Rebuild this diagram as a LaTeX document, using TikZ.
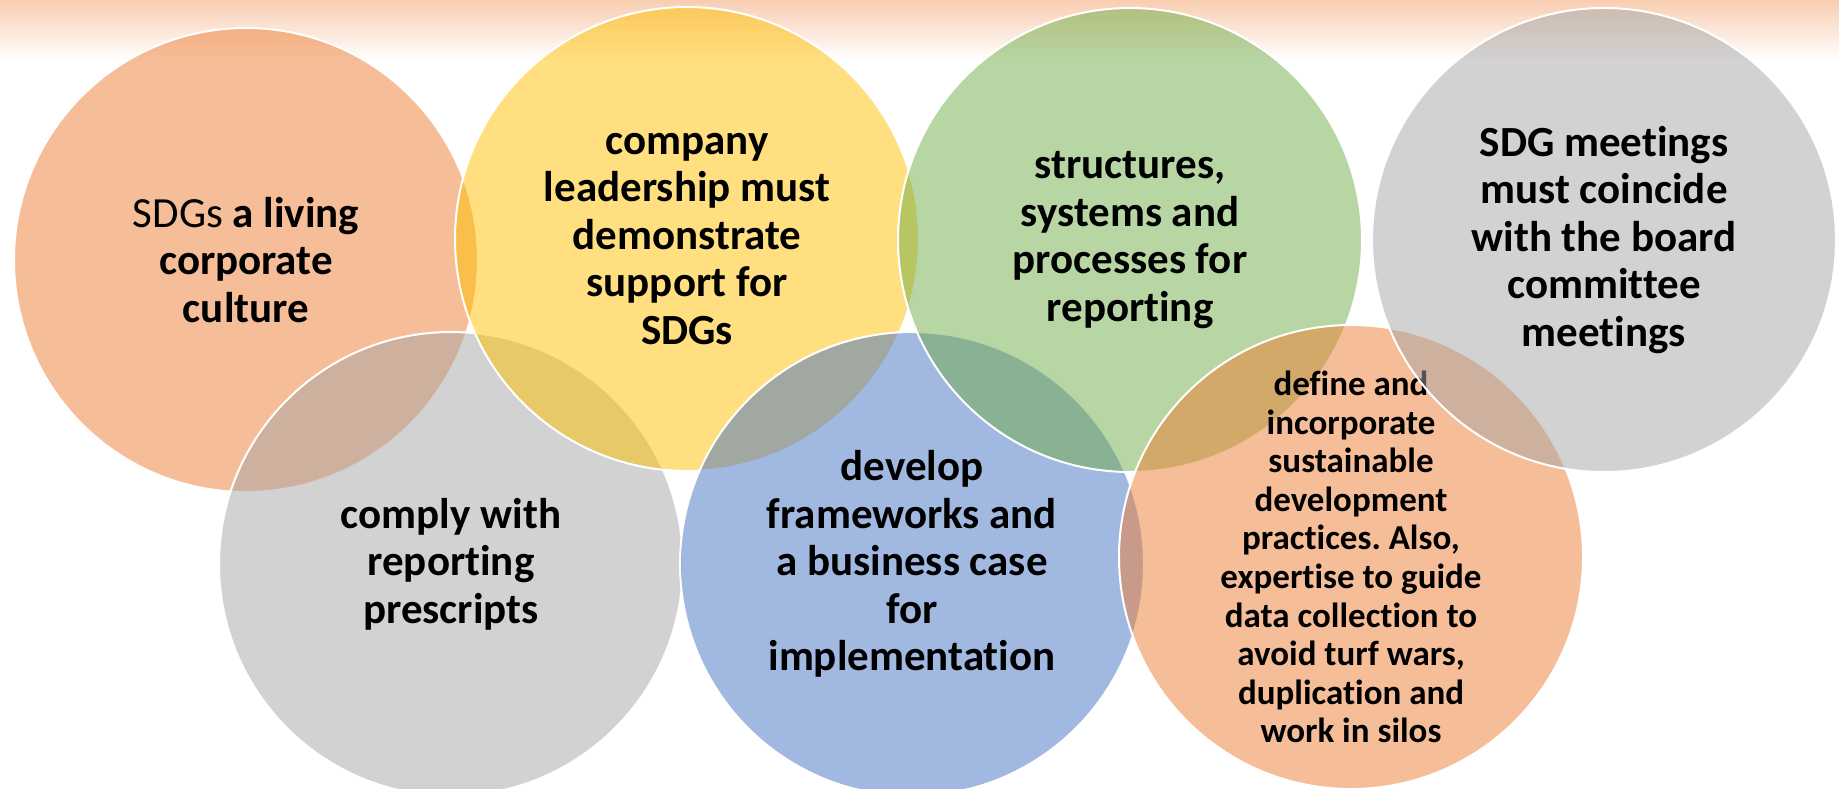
\documentclass[tikz,border=0pt]{standalone}
\usepackage{fontspec}
\setmainfont[Ligatures=NoCommon]{Carlito}
\usepackage{tikz}

\definecolor{accorange}{HTML}{ED7D31}
\definecolor{accgold}{HTML}{FFC000}
\definecolor{accgreen}{HTML}{70AD47}
\definecolor{accblue}{HTML}{4472C4}
\definecolor{accgray}{HTML}{A5A5A5}

\frenchspacing

\begin{document}
\begin{tikzpicture}[x=1pt, y=-1pt,
        venn/.style={circle, draw=white, line width=2pt, minimum size=464pt, inner sep=0pt,
            fill opacity=0.5, draw opacity=1, text opacity=1, align=center,
            font=\fontsize{43}{47.5}\selectfont\bfseries},
        vennsmall/.style={venn, font=\fontsize{35}{38.6}\selectfont\bfseries}]
        \useasboundingbox (0,0) rectangle (1839,788);

        % faded band along the top
        \fill[top color=accorange!38, bottom color=white] (0,0) rectangle (1839,60);

        % circles, each one laid over the ones before it
        \node[venn, fill=accorange] (culture) at (246,260) {{\mdseries SDGs} a living\\corporate\\culture};
        \node[venn, fill=accgray] (comply) at (451,564) {comply with\\reporting\\prescripts};
        \node[venn, fill=accgold] (leadership) at (687,239) {company\\leadership must\\demonstrate\\support for\\SDGs};
        \node[venn, fill=accblue] (frameworks) at (912,564) {develop\\frameworks and\\a business case\\for\\implementation};
        \node[venn, fill=accgreen] (structures) at (1130,240) {structures,\\systems and\\processes for\\reporting};
        \node[vennsmall, fill=accorange] (practices) at (1351,557) {define and\\incorporate\\sustainable\\development\\practices. Also,\\expertise to guide\\data collection to\\avoid turf wars,\\duplication and\\work in silos};
        \node[venn, fill=accgray] (meetings) at (1604,240) {SDG meetings\\must coincide\\with the board\\committee\\meetings};

    \end{tikzpicture}
\end{document}
